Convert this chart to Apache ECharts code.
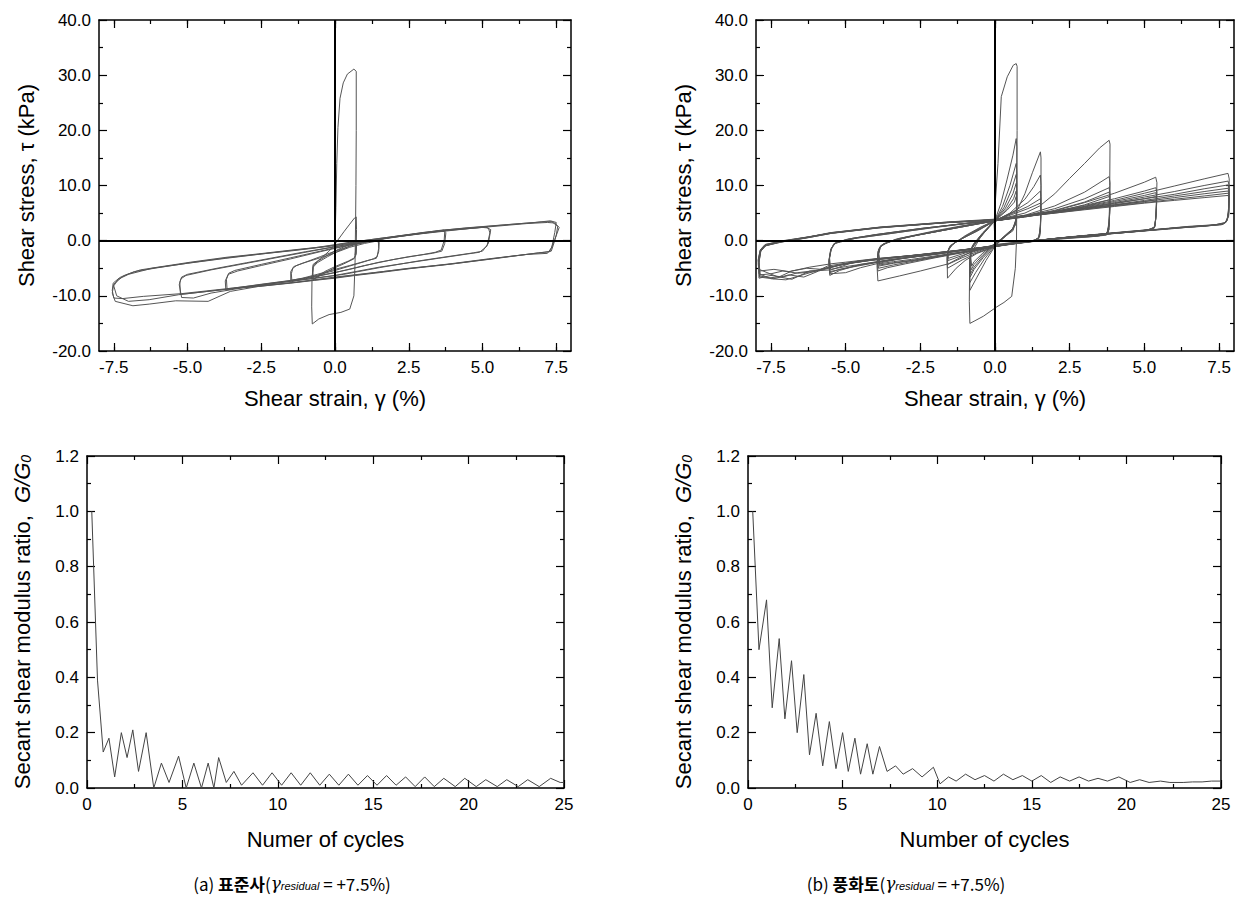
<!DOCTYPE html>
<html><head><meta charset="utf-8">
<script src="https://cdn.jsdelivr.net/npm/echarts@6/dist/echarts.min.js"></script>
<style>html,body{margin:0;padding:0;background:#fff}#c{width:1241px;height:900px}</style>
</head><body><div id="c"></div>
<script>
// ---------------- tick labels ----------------
const strainMajor = [-7.5, -5, -2.5, 0, 2.5, 5, 7.5];
const strainMinor = [-7.5, -6.25, -5, -3.75, -2.5, -1.25, 0, 1.25, 2.5, 3.75, 5, 6.25, 7.5];

// ---------------- (a) 표준사 : stress-strain loops [strain %, stress kPa] ----------------
const sandFirstLoop = [[0,0],[0.03,6],[0.06,14],[0.1,20.5],[0.17,25.8],[0.28,28.6],[0.42,30.2],[0.64,31.1],[0.72,30.7],[0.72,20],[0.71,10],[0.7,4.3],[0.68,-4],[0.64,-10],[0.5,-12.4],[0.2,-13.0],[-0.2,-13.4],[-0.55,-14.2],[-0.77,-15.1],[-0.79,-12],[-0.78,-7],[-0.74,-4.3],[-0.5,-3.3],[-0.2,-1.9],[0,-0.6],[0.3,1.6],[0.5,3.0],[0.66,4.1],[0.72,4.3],[0.73,2],[0.72,-0.8],[0.68,-2.6]];
const sandLoops075 = [
  [[0.72,-0.5],[0.71,-2.2],[0.66,-3.1],[0.45,-3.7],[0,-4.7],[-0.35,-5.6],[-0.6,-6.5],[-0.74,-7.1],[-0.76,-5.8],[-0.74,-4.5],[-0.55,-3.6],[-0.2,-2.5],[0.1,-1.6],[0.45,-0.8],[0.68,-0.2],[0.72,-0.5]],
  [[0.73,-0.8],[0.72,-2.5],[0.64,-3.3],[0.3,-4.2],[0,-4.9],[-0.4,-6.0],[-0.7,-6.9],[-0.75,-6.2],[-0.74,-4.8],[-0.6,-4.0],[-0.25,-2.9],[0.1,-1.9],[0.5,-1.0],[0.7,-0.5],[0.73,-0.8]]
];
const sandLoops150 = [
  [[-1.46,-7.4],[-1.48,-6.0],[-1.43,-5.0],[-1.3,-4.5],[-1.0,-3.9],[-0.5,-2.9],[0,-1.9],[0.5,-1.0],[1.0,-0.3],[1.35,0.1],[1.47,0.0],[1.48,-1.4],[1.43,-2.9],[1.3,-3.3],[1.0,-3.8],[0.5,-4.6],[0,-5.4],[-0.5,-6.1],[-1.0,-6.8],[-1.46,-7.4]],
  [[-1.5,-7.2],[-1.5,-5.6],[-1.4,-4.7],[-1.1,-4.1],[-0.5,-3.1],[0,-2.2],[0.5,-1.2],[1.0,-0.5],[1.4,-0.1],[1.5,-0.3],[1.48,-2.0],[1.4,-3.2],[1.1,-3.6],[0.5,-4.5],[0,-5.2],[-0.6,-6.1],[-1.1,-6.8],[-1.5,-7.2]]
];
const sandLoops375 = [
  [[-3.66,-8.7],[-3.68,-7.0],[-3.6,-5.9],[-3.4,-5.4],[-2.5,-4.3],[-1.5,-3.1],[-0.5,-1.9],[0,-1.3],[1.0,-0.3],[2.0,0.7],[3.0,1.4],[3.6,1.8],[3.72,1.6],[3.7,0],[3.6,-1.7],[3.4,-2.1],[3.0,-2.5],[2.0,-3.4],[1.0,-4.5],[0,-5.8],[-1.0,-6.9],[-2.0,-7.6],[-3.0,-8.3],[-3.66,-8.7]],
  [[-3.7,-9.0],[-3.72,-7.3],[-3.62,-6.1],[-3.3,-5.5],[-2.5,-4.5],[-1.5,-3.3],[-0.5,-2.0],[0.5,-0.8],[1.5,0.2],[2.5,1.0],[3.3,1.6],[3.68,1.9],[3.76,1.5],[3.72,-0.5],[3.62,-1.9],[3.3,-2.3],[2.5,-2.9],[1.5,-3.9],[0.5,-5.2],[-0.5,-6.3],[-1.5,-7.2],[-2.5,-7.9],[-3.3,-8.5],[-3.7,-9.0]]
];
const sandLoops525 = [
  [[-5.24,-9.7],[-5.26,-7.5],[-5.2,-6.6],[-5.0,-6.1],[-4.0,-5.0],[-3.0,-4.0],[-2.0,-3.0],[-1.0,-2.0],[0,-1.1],[1.0,-0.2],[2.0,0.7],[3.0,1.4],[4.0,2.0],[5.0,2.4],[5.2,2.3],[5.25,1.4],[5.15,-1.0],[4.9,-2.1],[4.5,-2.4],[3.5,-3.2],[2.5,-4.0],[1.5,-4.8],[0.5,-5.8],[0,-6.3],[-1.0,-7.0],[-2.0,-7.7],[-3.0,-8.4],[-4.0,-9.0],[-5.0,-9.6],[-5.24,-9.7]],
  [[-5.2,-10.3],[-5.28,-8.0],[-5.22,-6.9],[-5.05,-6.3],[-4.2,-5.3],[-3.2,-4.3],[-2.0,-3.1],[-0.8,-1.9],[0.5,-0.6],[1.8,0.5],[3.0,1.3],[4.2,2.0],[5.1,2.5],[5.28,2.0],[5.2,-0.5],[5.0,-1.9],[4.7,-2.2],[3.8,-2.9],[2.8,-3.7],[1.5,-4.9],[0.3,-6.1],[-0.8,-6.9],[-2.0,-7.7],[-3.2,-8.6],[-4.2,-9.5],[-4.8,-10.4],[-5.2,-10.3]]
];
const sandLoops750 = [
  [[-7.5,-10.4],[-7.55,-9.0],[-7.52,-7.7],[-7.3,-6.7],[-7.1,-6.2],[-6.6,-5.3],[-6.0,-4.8],[-4.9,-3.9],[-3.66,-3.0],[-2.6,-2.4],[-1.46,-1.7],[-0.4,-1.1],[0,-0.8],[0.7,-0.2],[1.5,0.4],[2.5,1.1],[3.6,1.9],[5.2,2.6],[6.3,3.1],[7.0,3.4],[7.35,3.45],[7.55,2.6],[7.5,1.0],[7.4,-0.8],[7.33,-1.9],[7.1,-2.1],[6.0,-2.8],[5.0,-3.5],[3.7,-4.4],[2.5,-5.1],[1.5,-5.8],[0.7,-6.3],[0,-6.8],[-0.7,-7.2],[-1.5,-7.7],[-2.6,-8.3],[-3.66,-8.7],[-5.2,-9.6],[-6.5,-10.1],[-7.2,-10.5],[-7.5,-10.4]],
  [[-7.45,-11.0],[-7.55,-9.5],[-7.5,-7.9],[-7.2,-6.5],[-6.8,-5.6],[-6.0,-4.9],[-4.9,-4.0],[-3.66,-3.1],[-2.5,-2.4],[-1.4,-1.8],[0,-0.9],[1.5,0.3],[2.5,1.0],[3.7,1.8],[5.2,2.5],[6.5,3.1],[7.2,3.3],[7.45,3.2],[7.6,2.4],[7.45,0.2],[7.28,-2.0],[6.9,-2.2],[5.5,-3.2],[4.0,-4.2],[2.5,-5.0],[1.2,-5.9],[0,-6.7],[-1.4,-7.6],[-2.6,-8.3],[-3.55,-9.2],[-4.3,-11.0],[-5.4,-10.9],[-6.3,-11.5],[-6.85,-11.8],[-7.45,-11.0]],
  [[-7.4,-10.0],[-7.5,-8.2],[-7.35,-7.0],[-7.0,-6.1],[-6.2,-5.0],[-5.0,-4.1],[-3.7,-3.2],[-2.0,-2.1],[-0.7,-1.3],[0.5,-0.3],[1.8,0.6],[3.0,1.5],[4.4,2.3],[5.8,2.9],[6.8,3.3],[7.3,3.6],[7.5,3.3],[7.45,1.5],[7.35,-1.2],[7.2,-2.3],[6.5,-2.5],[5.2,-3.3],[3.9,-4.2],[2.6,-5.0],[1.3,-5.8],[0,-6.6],[-1.3,-7.5],[-2.6,-8.2],[-4.0,-9.0],[-5.3,-9.8],[-6.3,-10.7],[-7.0,-11.0],[-7.4,-10.0]]
];

// ---------------- (b) 풍화토 : stress-strain loops ----------------
const wsFirstLoop = [[0,0],[-0.03,3],[0,6.2],[0.1,14],[0.21,26.1],[0.41,29.7],[0.61,31.8],[0.71,32.1],[0.74,31.6],[0.74,20],[0.73,8],[0.72,0],[0.68,-5],[0.56,-10.1],[0.3,-11.2],[0.06,-12.0],[-0.39,-13.7],[-0.7,-14.6],[-0.84,-15.0],[-0.86,-11],[-0.85,-6],[-0.82,-2.5],[-0.5,0.5],[-0.2,2.5],[0,3.8]];
const wsLoops075 = [
  [[-0.84,-9.0],[-0.85,-5],[-0.82,-1.8],[-0.5,0.6],[-0.2,2.5],[0,3.7],[0.2,6.8],[0.4,11.0],[0.6,15.5],[0.71,18.5],[0.73,17],[0.73,8],[0.7,3.5],[0.55,1.8],[0.3,0.6],[0,-1.0],[-0.3,-3.6],[-0.6,-6.6],[-0.84,-9.0]],
  [[-0.84,-7.6],[-0.85,-4.5],[-0.8,-1.5],[-0.5,0.8],[-0.2,2.6],[0,3.6],[0.25,6.2],[0.5,10.0],[0.71,14.0],[0.73,12],[0.72,5],[0.68,2.8],[0.4,1.0],[0,-0.9],[-0.35,-3.3],[-0.65,-5.8],[-0.84,-7.6]],
  [[-0.83,-6.6],[-0.85,-3.8],[-0.78,-1.2],[-0.45,1.0],[0,3.6],[0.3,6.0],[0.55,9.2],[0.71,12.0],[0.73,10],[0.72,4.5],[0.65,2.5],[0.35,0.9],[0,-0.8],[-0.4,-3.1],[-0.7,-5.2],[-0.83,-6.6]],
  [[-0.82,-6.0],[-0.84,-3.4],[-0.76,-1.0],[-0.4,1.2],[0,3.6],[0.35,5.9],[0.6,8.5],[0.71,10.4],[0.73,8.5],[0.72,4.2],[0.6,2.2],[0.3,0.8],[0,-0.7],[-0.4,-2.8],[-0.7,-4.8],[-0.82,-6.0]],
  [[-0.8,-5.3],[-0.83,-3.0],[-0.74,-0.8],[-0.4,1.4],[0,3.6],[0.4,5.8],[0.62,7.6],[0.71,9.0],[0.73,7.5],[0.72,4.0],[0.6,2.0],[0.3,0.7],[0,-0.6],[-0.4,-2.5],[-0.7,-4.3],[-0.8,-5.3]],
  [[-0.78,-4.6],[-0.82,-2.6],[-0.72,-0.6],[-0.4,1.5],[0,3.6],[0.4,5.5],[0.65,7.0],[0.71,8.0],[0.73,6.5],[0.72,3.8],[0.6,1.8],[0.3,0.6],[0,-0.5],[-0.4,-2.2],[-0.7,-3.8],[-0.78,-4.6]]
];
const wsLoops155 = [
  [[-1.59,-6.8],[-1.6,-4],[-1.58,-2.0],[-1.45,-0.8],[-1.0,0.9],[-0.5,2.4],[0,3.7],[0.4,4.6],[0.75,5.6],[1.0,8.5],[1.25,12.3],[1.52,16.1],[1.54,15],[1.54,8],[1.52,1.5],[1.45,0.2],[1.2,-0.2],[0.7,-0.5],[0,-1.1],[-0.6,-2.3],[-1.0,-3.6],[-1.3,-5.0],[-1.59,-6.8]],
  [[-1.59,-5.0],[-1.61,-3.2],[-1.57,-1.7],[-1.4,-0.6],[-0.9,1.1],[-0.4,2.6],[0,3.6],[0.5,5.0],[1.0,7.5],[1.3,9.8],[1.52,11.9],[1.54,10],[1.53,4],[1.5,0.8],[1.35,0.1],[0.8,-0.3],[0,-1.0],[-0.6,-2.2],[-1.1,-3.5],[-1.59,-5.0]],
  [[-1.58,-4.3],[-1.6,-2.8],[-1.55,-1.4],[-1.35,-0.4],[-0.8,1.3],[0,3.6],[0.6,5.2],[1.1,6.9],[1.52,9.0],[1.54,7.5],[1.52,3],[1.48,0.6],[1.3,0],[0.7,-0.4],[0,-0.9],[-0.6,-2.0],[-1.1,-3.1],[-1.58,-4.3]],
  [[-1.57,-3.6],[-1.59,-2.3],[-1.52,-1.1],[-1.3,-0.2],[-0.7,1.5],[0,3.6],[0.6,5.0],[1.1,6.2],[1.52,7.6],[1.54,6],[1.52,2.5],[1.46,0.5],[1.25,-0.1],[0.6,-0.4],[0,-0.8],[-0.6,-1.8],[-1.1,-2.7],[-1.57,-3.6]],
  [[-1.56,-3.2],[-1.58,-2.0],[-1.5,-0.9],[-1.25,0],[-0.6,1.7],[0,3.6],[0.6,4.8],[1.1,5.8],[1.52,6.8],[1.54,5.2],[1.52,2.0],[1.45,0.4],[1.2,-0.1],[0.5,-0.4],[0,-0.7],[-0.6,-1.6],[-1.1,-2.4],[-1.56,-3.2]]
];
const wsLoops385 = [
  [[-3.92,-7.3],[-3.95,-4.5],[-3.92,-2.0],[-3.8,-0.8],[-3.3,0.3],[-2.0,1.8],[-1.0,2.8],[0,3.7],[1.0,5.0],[1.5,6.3],[2.0,8.5],[2.5,11.3],[3.0,14.0],[3.5,16.8],[3.82,18.2],[3.85,17.5],[3.84,10],[3.82,2.0],[3.7,1.2],[3.3,0.9],[2.5,0.6],[1.5,0.1],[0.5,-0.6],[0,-1.0],[-0.8,-2.0],[-1.56,-4.2],[-2.5,-5.5],[-3.2,-6.4],[-3.92,-7.3]],
  [[-3.92,-5.5],[-3.94,-3.5],[-3.9,-1.6],[-3.75,-0.6],[-3.2,0.4],[-2.0,1.7],[-1.0,2.7],[0,3.6],[1.0,4.6],[2.0,6.3],[3.0,8.8],[3.82,11.6],[3.85,10.5],[3.84,5],[3.8,1.5],[3.6,1.0],[3.0,0.8],[2.0,0.4],[1.0,-0.2],[0,-1.0],[-1.0,-2.1],[-2.0,-3.1],[-3.0,-4.2],[-3.6,-4.9],[-3.92,-5.5]],
  [[-3.9,-5.0],[-3.93,-3.2],[-3.88,-1.4],[-3.7,-0.5],[-3.0,0.6],[-2.0,1.6],[-1.0,2.7],[0,3.6],[1.0,4.5],[2.0,5.8],[3.0,7.6],[3.82,9.6],[3.85,8.5],[3.83,4],[3.78,1.3],[3.5,0.9],[2.5,0.6],[1.5,0.1],[0.5,-0.6],[-0.5,-1.5],[-1.5,-2.5],[-2.5,-3.5],[-3.4,-4.4],[-3.9,-5.0]],
  [[-3.88,-4.6],[-3.92,-2.8],[-3.86,-1.2],[-3.6,-0.3],[-2.8,0.8],[-1.5,2.1],[0,3.6],[1.0,4.4],[2.0,5.5],[3.0,7.0],[3.82,8.8],[3.85,7.8],[3.82,3.5],[3.75,1.2],[3.4,0.8],[2.4,0.5],[1.4,0],[0.4,-0.7],[-0.6,-1.6],[-1.6,-2.6],[-2.6,-3.5],[-3.4,-4.1],[-3.88,-4.6]],
  [[-3.86,-4.4],[-3.9,-2.5],[-3.84,-1.0],[-3.5,-0.1],[-2.6,1.0],[-1.3,2.3],[0,3.6],[1.0,4.3],[2.0,5.2],[3.0,6.5],[3.82,8.0],[3.85,7.0],[3.82,3.0],[3.74,1.1],[3.3,0.8],[2.3,0.4],[1.3,-0.1],[0.3,-0.8],[-0.7,-1.7],[-1.7,-2.6],[-2.7,-3.5],[-3.4,-4.0],[-3.86,-4.4]],
  [[-3.85,-4.2],[-3.89,-2.3],[-3.82,-0.9],[-3.45,0],[-2.5,1.1],[-1.2,2.4],[0,3.6],[1.0,4.3],[2.0,5.1],[3.0,6.2],[3.82,7.4],[3.85,6.6],[3.82,2.8],[3.73,1.0],[3.2,0.7],[2.2,0.3],[1.2,-0.2],[0.2,-0.9],[-0.8,-1.8],[-1.8,-2.6],[-2.8,-3.4],[-3.4,-3.8],[-3.85,-4.2]]
];
const wsLoops540 = [
  [[-5.53,-6.3],[-5.56,-4.0],[-5.5,-1.8],[-5.4,-0.6],[-5.0,0.2],[-4.0,1.1],[-2.5,2.2],[-1.0,3.1],[0,3.7],[1.0,4.5],[2.0,5.4],[3.0,6.9],[4.0,8.6],[5.0,10.6],[5.38,11.5],[5.42,10.5],[5.4,6],[5.36,2.6],[5.2,2.0],[4.5,1.7],[3.5,1.2],[2.5,0.7],[1.5,0.1],[0.5,-0.5],[-0.5,-1.3],[-1.5,-2.1],[-2.5,-2.8],[-3.5,-3.4],[-4.5,-4.3],[-5.2,-5.4],[-5.53,-6.3]],
  [[-5.53,-5.8],[-5.56,-3.6],[-5.5,-1.6],[-5.38,-0.5],[-4.9,0.3],[-4.0,1.1],[-2.5,2.2],[-1.0,3.1],[0,3.6],[1.0,4.5],[2.0,5.3],[3.0,6.4],[4.0,7.6],[5.0,9.0],[5.38,9.6],[5.42,8.8],[5.4,5],[5.35,2.5],[5.15,2.0],[4.4,1.6],[3.4,1.1],[2.4,0.6],[1.4,0],[0.4,-0.6],[-0.6,-1.4],[-1.6,-2.2],[-2.6,-2.9],[-3.6,-3.6],[-4.6,-4.5],[-5.2,-5.2],[-5.53,-5.8]],
  [[-5.52,-5.6],[-5.55,-3.4],[-5.48,-1.4],[-5.34,-0.4],[-4.8,0.4],[-3.8,1.2],[-2.3,2.3],[-0.9,3.2],[0,3.6],[1.0,4.4],[2.0,5.2],[3.0,6.1],[4.0,7.1],[5.0,8.2],[5.38,8.7],[5.41,8.0],[5.39,4.5],[5.34,2.4],[5.1,1.9],[4.2,1.5],[3.2,1.0],[2.2,0.5],[1.2,-0.1],[0.2,-0.8],[-0.8,-1.5],[-1.8,-2.3],[-2.8,-3.0],[-3.8,-3.8],[-4.8,-4.8],[-5.52,-5.6]],
  [[-5.5,-5.2],[-5.54,-3.0],[-5.46,-1.2],[-5.3,-0.3],[-4.6,0.5],[-3.5,1.3],[-2.0,2.4],[-0.8,3.2],[0,3.6],[1.0,4.4],[2.0,5.1],[3.0,5.9],[4.0,6.8],[5.0,7.6],[5.38,8.0],[5.41,7.3],[5.38,4.0],[5.33,2.3],[5.0,1.8],[4.0,1.4],[3.0,0.9],[2.0,0.4],[1.0,-0.2],[0,-0.9],[-1.0,-1.6],[-2.0,-2.4],[-3.0,-3.1],[-4.0,-3.9],[-5.0,-4.7],[-5.5,-5.2]],
  [[-5.53,-6.0],[-5.56,-3.8],[-5.5,-1.7],[-5.36,-0.5],[-4.7,0.4],[-3.6,1.2],[-2.2,2.3],[-0.9,3.2],[0,3.6],[1.0,4.4],[2.0,5.1],[3.0,5.8],[4.0,6.5],[5.0,7.1],[5.38,7.4],[5.41,6.8],[5.38,3.8],[5.32,2.2],[4.9,1.8],[3.9,1.3],[2.9,0.8],[1.9,0.3],[0.9,-0.3],[-0.1,-1.0],[-1.1,-1.7],[-2.1,-2.5],[-3.1,-3.2],[-3.9,-4.1],[-4.5,-4.9],[-5.0,-5.8],[-5.53,-6.0]]
];
const wsLoops780 = [
  [[-7.88,-6.6],[-7.9,-4.0],[-7.86,-2.0],[-7.69,-0.8],[-7.19,-0.2],[-6.3,0.6],[-5.52,1.45],[-3.9,2.4],[-1.56,3.4],[0,3.9],[1.0,4.6],[2.0,5.3],[3.0,6.2],[4.0,7.3],[5.0,8.6],[6.0,9.9],[7.0,11.2],[7.8,12.2],[7.84,11.2],[7.82,6.0],[7.78,4.0],[7.7,3.3],[7.4,2.9],[6.5,2.6],[5.5,2.1],[4.5,1.6],[3.8,1.3],[3.0,0.9],[2.0,0.4],[1.0,-0.2],[0,-1.0],[-1.0,-1.7],[-2.0,-2.3],[-3.0,-2.8],[-3.9,-3.2],[-5.0,-3.9],[-5.5,-4.2],[-6.2,-4.8],[-6.8,-5.5],[-7.2,-6.5],[-7.6,-6.8],[-7.88,-6.6]],
  [[-7.9,-5.2],[-7.92,-3.5],[-7.85,-1.8],[-7.7,-0.9],[-7.2,-0.3],[-6.3,0.5],[-5.5,1.3],[-3.9,2.3],[-1.6,3.3],[0,3.8],[1.0,4.5],[2.0,5.2],[3.0,6.0],[4.0,6.9],[5.0,7.9],[6.0,8.9],[7.0,10.0],[7.8,10.8],[7.84,10.0],[7.82,5.5],[7.77,3.8],[7.68,3.2],[7.3,2.8],[6.4,2.5],[5.4,2.0],[4.4,1.5],[3.4,1.1],[2.4,0.6],[1.4,0],[0.4,-0.7],[-0.6,-1.4],[-1.6,-2.0],[-2.6,-2.6],[-3.6,-3.1],[-4.6,-3.7],[-5.5,-5.3],[-6.2,-5.5],[-6.8,-7.0],[-7.3,-6.5],[-7.9,-5.2]],
  [[-7.86,-6.2],[-7.9,-3.8],[-7.84,-1.9],[-7.66,-0.9],[-7.1,-0.2],[-6.2,0.6],[-5.4,1.4],[-3.8,2.4],[-1.5,3.3],[0,3.8],[1.0,4.5],[2.0,5.2],[3.0,5.9],[4.0,6.7],[5.0,7.6],[6.0,8.4],[7.0,9.4],[7.8,10.1],[7.84,9.3],[7.82,5.2],[7.76,3.7],[7.66,3.1],[7.2,2.8],[6.2,2.4],[5.2,1.9],[4.2,1.4],[3.2,1.0],[2.2,0.5],[1.2,-0.1],[0.2,-0.8],[-0.8,-1.5],[-1.8,-2.1],[-2.8,-2.7],[-3.8,-3.2],[-4.8,-3.9],[-5.6,-4.6],[-6.0,-5.6],[-6.6,-5.9],[-7.1,-5.5],[-7.5,-6.0],[-7.86,-6.2]],
  [[-7.9,-6.0],[-7.93,-3.6],[-7.86,-1.7],[-7.7,-0.7],[-7.15,-0.1],[-6.25,0.7],[-5.45,1.4],[-3.85,2.4],[-1.5,3.3],[0,3.8],[1.0,4.5],[2.0,5.1],[3.0,5.8],[4.0,6.5],[5.0,7.3],[6.0,8.1],[7.0,8.9],[7.8,9.5],[7.84,8.8],[7.82,5.0],[7.76,3.6],[7.64,3.0],[7.1,2.7],[6.1,2.3],[5.1,1.9],[4.1,1.4],[3.1,0.9],[2.1,0.4],[1.1,-0.2],[0.1,-0.9],[-0.9,-1.6],[-1.9,-2.2],[-2.9,-2.8],[-3.9,-3.4],[-4.9,-4.1],[-5.7,-5.0],[-6.5,-6.3],[-7.0,-7.1],[-7.5,-6.9],[-7.9,-6.0]],
  [[-7.88,-5.5],[-7.92,-3.3],[-7.85,-1.6],[-7.68,-0.7],[-7.1,0],[-6.2,0.7],[-5.4,1.5],[-3.8,2.5],[-1.5,3.4],[0,3.8],[1.0,4.5],[2.0,5.1],[3.0,5.8],[4.0,6.4],[5.0,7.1],[6.0,7.8],[7.0,8.5],[7.8,9.0],[7.84,8.4],[7.82,4.8],[7.75,3.5],[7.62,3.0],[7.0,2.6],[6.0,2.3],[5.0,1.8],[4.0,1.3],[3.0,0.9],[2.0,0.3],[1.0,-0.3],[0,-1.0],[-1.0,-1.6],[-2.0,-2.2],[-3.0,-2.8],[-4.0,-3.4],[-5.0,-4.2],[-5.8,-5.2],[-6.3,-5.0],[-6.9,-5.6],[-7.4,-5.2],[-7.88,-5.5]],
  [[-7.87,-6.4],[-7.9,-4.0],[-7.84,-1.9],[-7.7,-0.9],[-7.2,-0.2],[-6.3,0.6],[-5.5,1.4],[-3.9,2.4],[-1.6,3.3],[0,3.7],[1.0,4.4],[2.0,5.0],[3.0,5.7],[4.0,6.3],[5.0,6.9],[6.0,7.5],[7.0,8.1],[7.8,8.6],[7.84,8.0],[7.82,4.6],[7.74,3.4],[7.6,2.9],[6.9,2.6],[5.9,2.2],[4.9,1.7],[3.9,1.3],[2.9,0.8],[1.9,0.3],[0.9,-0.3],[-0.1,-1.0],[-1.1,-1.7],[-2.1,-2.3],[-3.1,-2.9],[-4.1,-3.5],[-5.1,-4.3],[-5.9,-5.5],[-6.4,-6.6],[-6.9,-6.2],[-7.4,-6.9],[-7.87,-6.4]],
  [[-7.9,-6.8],[-7.92,-4.2],[-7.86,-2.1],[-7.72,-1.0],[-7.25,-0.3],[-6.35,0.5],[-5.55,1.3],[-3.95,2.3],[-1.6,3.3],[0,3.7],[1.0,4.4],[2.0,5.0],[3.0,5.6],[4.0,6.2],[5.0,6.8],[6.0,7.3],[7.0,7.8],[7.8,8.2],[7.84,7.6],[7.82,4.4],[7.73,3.3],[7.55,2.9],[6.8,2.6],[5.8,2.1],[4.8,1.7],[3.8,1.2],[2.8,0.8],[1.8,0.2],[0.8,-0.4],[-0.2,-1.1],[-1.2,-1.8],[-2.2,-2.4],[-3.2,-3.0],[-4.2,-3.6],[-5.2,-4.4],[-6.0,-5.4],[-6.6,-5.8],[-7.1,-6.6],[-7.5,-6.3],[-7.9,-6.8]]
];

// ---------------- G/G0 vs number of cycles ----------------
const sandCycles = [0.25,0.55,0.85,1.15,1.45,1.8,2.1,2.4,2.7,3.1,3.5,3.9,4.3,4.8,5.2,5.6,6.0,6.35,6.65,6.9,7.3,7.7,8.1,8.7,9.2,9.7,10.2,10.7,11.2,11.7,12.2,12.7,13.2,13.7,14.2,14.7,15.2,15.7,16.2,16.7,17.2,17.7,18.2,18.7,19.3,19.8,20.4,20.9,21.5,22.0,22.6,23.1,23.7,24.3,24.8,25.0];
const sandRatio  = [1.0,0.39,0.13,0.18,0.04,0.2,0.11,0.21,0.06,0.2,0.0,0.09,0.02,0.115,0.0,0.09,0.0,0.09,0.0,0.11,0.02,0.06,0.01,0.055,0.01,0.055,0.01,0.055,0.01,0.055,0.01,0.05,0.01,0.05,0.01,0.045,0.01,0.045,0.01,0.04,0.005,0.04,0.005,0.035,0.005,0.035,0.005,0.03,0.005,0.03,0.005,0.03,0.005,0.035,0.02,0.02];
const wsCycles = [0.25,0.58,0.98,1.28,1.65,1.95,2.3,2.6,2.95,3.25,3.6,3.95,4.3,4.65,5.0,5.3,5.65,5.95,6.3,6.6,6.95,7.35,7.8,8.2,8.7,9.2,9.8,10.15,10.6,11.0,11.5,12.0,12.5,13.0,13.5,14.0,14.5,15.0,15.5,16.0,16.5,17.0,17.5,18.0,18.5,19.0,19.6,20.2,20.7,21.2,21.8,22.3,23.0,23.5,24.0,24.5,25.0];
const wsRatio  = [1.0,0.5,0.68,0.29,0.54,0.25,0.46,0.2,0.41,0.12,0.27,0.08,0.24,0.07,0.2,0.06,0.18,0.05,0.16,0.05,0.15,0.06,0.08,0.05,0.07,0.04,0.075,0.015,0.04,0.025,0.05,0.03,0.045,0.025,0.05,0.03,0.045,0.025,0.045,0.02,0.04,0.025,0.04,0.025,0.035,0.025,0.04,0.02,0.03,0.02,0.025,0.02,0.02,0.022,0.022,0.025,0.025];

// ---------------- chart ----------------
const FONT = "'Liberation Sans', Arial, sans-serif";
const LINE = '#555555';
const BLACK = '#000';
const tickStyle = {color: BLACK, width: 1.2};
const frameLine = {show: true, onZero: false, lineStyle: {color: BLACK, width: 1.5}};

const grids = [
  {left: 99, top: 20, width: 472, height: 331},
  {left: 756, top: 20, width: 478, height: 331},
  {left: 87, top: 456, width: 477, height: 332},
  {left: 748, top: 456, width: 473, height: 332}
];
const xAxis = [], yAxis = [];
const axisNameStyle = {fontFamily: FONT, fontSize: 22, color: BLACK};
const labelStyle = {fontFamily: FONT, fontSize: 17, color: BLACK};

function strainAxes(g) {
  const main = xAxis.length;
  xAxis.push({gridIndex: g, type: 'value', min: -8, max: 8, position: 'bottom',
    name: 'Shear strain, γ (%)', nameLocation: 'middle', nameGap: 36, nameTextStyle: axisNameStyle,
    axisLine: frameLine, axisTick: {show: true, inside: true, length: 8, customValues: strainMajor, lineStyle: tickStyle},
    axisLabel: Object.assign({show: true, customValues: strainMajor, margin: 8, formatter: v => v.toFixed(1)}, labelStyle),
    splitLine: {show: false}});
  xAxis.push({gridIndex: g, type: 'value', min: -8, max: 8, position: 'bottom',
    axisLine: {show: false, onZero: false}, axisTick: {show: true, inside: true, length: 4, customValues: strainMinor, lineStyle: tickStyle},
    axisLabel: {show: false}, splitLine: {show: false}});
  xAxis.push({gridIndex: g, type: 'value', min: -8, max: 8, position: 'top',
    axisLine: frameLine, axisTick: {show: true, inside: true, length: 8, customValues: strainMajor, lineStyle: tickStyle},
    axisLabel: {show: false}, splitLine: {show: false}});
  xAxis.push({gridIndex: g, type: 'value', min: -8, max: 8, position: 'top',
    axisLine: {show: false, onZero: false}, axisTick: {show: true, inside: true, length: 4, customValues: strainMinor, lineStyle: tickStyle},
    axisLabel: {show: false}, splitLine: {show: false}});
  return main;
}
function stressAxes(g) {
  const main = yAxis.length;
  const base = {gridIndex: g, type: 'value', min: -20, max: 40, interval: 10,
    axisLine: frameLine, axisTick: {show: true, inside: true, length: 8, lineStyle: tickStyle},
    minorTick: {show: true, splitNumber: 2, length: 4, lineStyle: tickStyle},
    splitLine: {show: false}, minorSplitLine: {show: false}};
  yAxis.push(Object.assign({}, base, {position: 'left', name: 'Shear stress, τ (kPa)', nameLocation: 'middle', nameGap: 62,
    nameTextStyle: axisNameStyle, axisLabel: Object.assign({margin: 8, formatter: v => v.toFixed(1)}, labelStyle)}));
  yAxis.push(Object.assign({}, base, {position: 'right', axisLabel: {show: false}}));
  return main;
}
function cycleAxes(g, title) {
  const main = xAxis.length;
  const base = {gridIndex: g, type: 'value', min: 0, max: 25, interval: 5,
    axisLine: frameLine, axisTick: {show: true, inside: true, length: 8, lineStyle: tickStyle},
    minorTick: {show: true, splitNumber: 2, length: 4, lineStyle: tickStyle}, splitLine: {show: false}};
  xAxis.push(Object.assign({}, base, {position: 'bottom', name: title, nameLocation: 'middle', nameGap: 40,
    nameTextStyle: axisNameStyle, axisLabel: Object.assign({margin: 8}, labelStyle)}));
  xAxis.push(Object.assign({}, base, {position: 'top', axisLabel: {show: false}}));
  return main;
}
function ratioAxes(g) {
  const main = yAxis.length;
  const base = {gridIndex: g, type: 'value', min: 0, max: 1.2, interval: 0.2,
    axisLine: frameLine, axisTick: {show: true, inside: true, length: 8, lineStyle: tickStyle},
    minorTick: {show: true, splitNumber: 2, length: 4, lineStyle: tickStyle}, splitLine: {show: false}};
  yAxis.push(Object.assign({}, base, {position: 'left',
    name: 'Secant shear modulus ratio,  {i|G/G}{s|0}', nameLocation: 'middle', nameGap: 54,
    nameTextStyle: Object.assign({}, axisNameStyle, {rich: {
      i: {fontFamily: FONT, fontSize: 22, fontStyle: 'italic', color: BLACK},
      s: {fontFamily: FONT, fontSize: 14, fontStyle: 'italic', color: BLACK, verticalAlign: 'bottom', padding: [0, 0, 0, 0]}
    }}),
    axisLabel: Object.assign({margin: 8, formatter: v => v.toFixed(1)}, labelStyle)}));
  yAxis.push(Object.assign({}, base, {position: 'right', axisLabel: {show: false}}));
  return main;
}

const x0 = strainAxes(0), y0 = stressAxes(0);
const x1 = strainAxes(1), y1 = stressAxes(1);
const x2 = cycleAxes(2, 'Numer of cycles'), y2 = ratioAxes(2);
const x3 = cycleAxes(3, 'Number of cycles'), y3 = ratioAxes(3);

const series = [];
function loopSeries(data, xi, yi) {
  series.push({type: 'line', xAxisIndex: xi, yAxisIndex: yi, data: data, symbol: 'none', showSymbol: false,
    lineStyle: {color: LINE, width: 1}, silent: true, z: 2});
}
const zeroLines = {silent: true, symbol: 'none', label: {show: false}, animation: false,
  lineStyle: {color: BLACK, width: 2, type: 'solid'}, emphasis: {disabled: true},
  data: [{xAxis: 0}, {yAxis: 0}]};

[[sandFirstLoop], sandLoops075, sandLoops150, sandLoops375, sandLoops525, sandLoops750]
  .forEach(group => group.forEach(c => loopSeries(c, x0, y0)));
series[0].markLine = zeroLines;
const wsStart = series.length;
[[wsFirstLoop], wsLoops075, wsLoops155, wsLoops385, wsLoops540, wsLoops780]
  .forEach(group => group.forEach(c => loopSeries(c, x1, y1)));
series[wsStart].markLine = zeroLines;

series.push({type: 'line', xAxisIndex: x2, yAxisIndex: y2, data: sandCycles.map((n, i) => [n, sandRatio[i]]),
  symbol: 'none', lineStyle: {color: '#444', width: 1}, silent: true});
series.push({type: 'line', xAxisIndex: x3, yAxisIndex: y3, data: wsCycles.map((n, i) => [n, wsRatio[i]]),
  symbol: 'none', lineStyle: {color: '#444', width: 1}, silent: true});

const captionRich = {
  k: {fontFamily: "'Noto Sans CJK KR', sans-serif", fontSize: 17, fontWeight: 'bold', fill: BLACK},
  g: {fontFamily: 'DejaVu Serif', fontSize: 17, fontStyle: 'italic', fill: BLACK},
  r: {fontFamily: FONT, fontSize: 11, fontStyle: 'italic', fill: BLACK, verticalAlign: 'bottom'}
};
function caption(x, text) {
  return {type: 'text', x: x, y: 883, silent: true,
    style: {text: text, align: 'center', verticalAlign: 'middle', fontFamily: "'Noto Sans CJK KR', sans-serif",
      fontSize: 17, fontWeight: 'normal', fill: BLACK, rich: captionRich}};
}

const chart = echarts.init(document.getElementById('c'), null, {renderer: 'svg'});
chart.setOption({
  animation: false,
  backgroundColor: '#fff',
  grid: grids,
  xAxis: xAxis,
  yAxis: yAxis,
  series: series,
  graphic: [
    caption(292, '(a) {k|표준사}({g|γ}{r|residual} = +7.5%)'),
    caption(906, '(b) {k|풍화토}({g|γ}{r|residual} = +7.5%)')
  ]
});
</script></body></html>
